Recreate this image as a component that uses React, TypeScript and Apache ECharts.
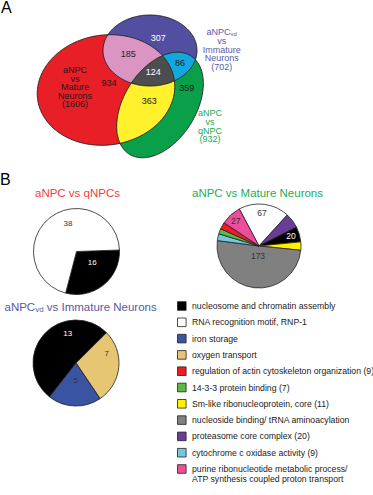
import React, { useEffect, useRef } from "react";
import * as echarts from "echarts";

const FONT = '"Liberation Sans", Arial, Helvetica, sans-serif';

// ---------- Data ----------
// Venn diagram (panel A)
const setLabels = ["aNPC\nvs\nMature\nNeurons", "aNPC{s|vd}\nvs\nImmature\nNeurons", "aNPC\nvs\nqNPC"];
const setTotals = [1606, 702, 932];
// regions: red only, blue only, green only, red&blue, blue&green, red&green, all three
const regionCounts = [934, 307, 359, 185, 86, 363, 124];

// GO terms (legend)
const termNames = [
  "nucleosome and chromatin assembly",
  "RNA recognition motif, RNP-1",
  "iron storage",
  "oxygen transport",
  "regulation of actin cytoskeleton organization (9)",
  "14-3-3 protein binding (7)",
  "Sm-like ribonucleoprotein, core (11)",
  "nucleoside binding/ tRNA aminoacylation",
  "proteasome core complex (20)",
  "cytochrome c oxidase activity (9)",
  "purine ribonucleotide metabolic process/\nATP synthesis coupled proton transport",
];
const termColors = [
  "#000000", "#ffffff", "#3a54a4", "#e6c673", "#ed1c24", "#5cb947",
  "#fff200", "#808080", "#693c98", "#72c9dd", "#ee4d9b",
];

// Pie charts (panel B)
const pieTitles = ["aNPC vs qNPCs", "aNPC vs Mature Neurons", "aNPC{s|vd} vs Immature Neurons"];
const pie1Terms = [0, 1];
const pie1Values = [16, 38];
const pie2Terms = [1, 8, 0, 6, 7, 9, 5, 4, 10];
const pie2Values = [67, 20, 20, 11, 173, 9, 7, 9, 27];
const pie3Terms = [0, 3, 2];
const pie3Values = [13, 7, 5];

// ---------- Layout ----------
const ELLIPSES = [
  { cx: 106, cy: 90, rx: 69, ry: 55, rot: 8, fill: "#e81f27" },
  { cx: 150, cy: 50.5, rx: 47, ry: 35.5, rot: 0, fill: "#524fa1" },
  { cx: 160, cy: 105, rx: 58, ry: 36, rot: 58, fill: "#0aa04a" },
];
const REGION_COLORS = { rb: "#da95c3", bg: "#12a8df", rg: "#fff22d", all: "#4d4d4f" };
const REGION_POS = [
  [109, 83.3], [158.3, 38.3], [186.7, 88.3], [128.3, 54.3], [180, 62.7], [149.3, 100.7], [153.3, 71.7],
];
const REGION_TEXT = ["#1a1a1a", "#ffffff", "#1a1a1a", "#222222", "#1a1a1a", "#1a1a1a", "#ffffff"];
const SET_LABEL_POS = [[75, 87.2], [221.7, 49.5], [210, 126.3]];
const SET_LABEL_COLOR = ["#1a1a1a", "#5b59a8", "#22a951"];

const PIE_CENTERS = [[76.5, 251.5], [259, 246], [76, 363]];
const PIE_RADII = [43, 42, 43];
const PIE_START = [2, 118, 232];
// label placement: [angle deg, radius fraction] or null (hidden)
const PIE_LABEL_POS = [
  [[-34, 0.44], [106.6, 0.69]],
  [[85, 0.8], null, [17.4, 0.8], null, [-95.7, 0.24], null, null, null, [132.6, 0.82]],
  [[105.6, 0.72], [17.5, 0.75], [-91, 0.41]],
];
const TITLE_POS = [[77.5, 193, "center"], [257.5, 192.5, "center"], [4.5, 307, "left"]];
const TITLE_COLOR = ["#ef3e42", "#1aae55", "#5a57a6"];

const LEGEND_X = 177.5;
const LEGEND_TOP = 306;
const LEGEND_PITCH = 16.3;

type P = [number, number];

function ellipsePts(e: { cx: number; cy: number; rx: number; ry: number; rot: number }, n = 240): P[] {
  const th = (e.rot * Math.PI) / 180;
  const c = Math.cos(th), s = Math.sin(th);
  const pts: P[] = [];
  for (let i = 0; i < n; i++) {
    const t = (2 * Math.PI * i) / n;
    const u = e.rx * Math.cos(t), v = e.ry * Math.sin(t);
    pts.push([e.cx + u * c + v * s, e.cy - u * s + v * c]);
  }
  return pts;
}

function polyArea(p: P[]): number {
  let a = 0;
  for (let i = 0; i < p.length; i++) {
    const [x1, y1] = p[i];
    const [x2, y2] = p[(i + 1) % p.length];
    a += x1 * y2 - x2 * y1;
  }
  return a / 2;
}

function clipPoly(subject: P[], clip: P[]): P[] {
  const sgn = Math.sign(polyArea(clip));
  let out = subject;
  for (let i = 0; i < clip.length; i++) {
    const A = clip[i], B = clip[(i + 1) % clip.length];
    const inp = out;
    out = [];
    if (!inp.length) break;
    const inside = (p: P) => sgn * ((B[0] - A[0]) * (p[1] - A[1]) - (B[1] - A[1]) * (p[0] - A[0])) >= 0;
    const inter = (p: P, q: P): P => {
      const [x1, y1] = p, [x2, y2] = q, [x3, y3] = A, [x4, y4] = B;
      const d = (x1 - x2) * (y3 - y4) - (y1 - y2) * (x3 - x4);
      const t = ((x1 - x3) * (y3 - y4) - (y1 - y3) * (x3 - x4)) / d;
      return [x1 + t * (x2 - x1), y1 + t * (y2 - y1)];
    };
    for (let j = 0; j < inp.length; j++) {
      const Pp = inp[j], Q = inp[(j + 1) % inp.length];
      const pin = inside(Pp), qin = inside(Q);
      if (qin) {
        if (!pin) out.push(inter(Pp, Q));
        out.push(Q);
      } else if (pin) out.push(inter(Pp, Q));
    }
  }
  return out;
}

function txt(x: number, y: number, text: string, o: any = {}) {
  const align = o.align || "center";
  const va = o.verticalAlign || "middle";
  return {
    type: "text",
    x,
    y,
    z: 10,
    style: {
      text,
      fill: o.color || "#1a1a1a",
      fontSize: o.fontSize || 9,
      fontFamily: FONT,
      lineHeight: o.lineHeight,
      align,
      verticalAlign: va,
      textAlign: align,
      textVerticalAlign: va,
      rich: o.rich,
    },
  };
}

function buildGraphic() {
  const els: any[] = [];
  const [R, B, G] = ELLIPSES.map((e) => ellipsePts(e));
  ELLIPSES.forEach((e, i) => {
    els.push({ type: "polygon", z: 1, shape: { points: [R, B, G][i] }, style: { fill: e.fill } });
  });
  const rb = clipPoly(R, B);
  const bg = clipPoly(B, G);
  const rg = clipPoly(R, G);
  const all = clipPoly(rb, G);
  els.push({ type: "polygon", z: 2, shape: { points: rb }, style: { fill: REGION_COLORS.rb } });
  els.push({ type: "polygon", z: 2, shape: { points: bg }, style: { fill: REGION_COLORS.bg } });
  els.push({ type: "polygon", z: 2, shape: { points: rg }, style: { fill: REGION_COLORS.rg } });
  els.push({ type: "polygon", z: 3, shape: { points: all }, style: { fill: REGION_COLORS.all } });
  [R, B, G].forEach((pts) => {
    els.push({ type: "polygon", z: 4, shape: { points: pts }, style: { fill: "none", stroke: "#231f20", lineWidth: 0.9 } });
  });
  regionCounts.forEach((v, i) => {
    els.push(txt(REGION_POS[i][0], REGION_POS[i][1], String(v), { color: REGION_TEXT[i], fontSize: 9 }));
  });
  setLabels.forEach((lab, i) => {
    els.push(
      txt(SET_LABEL_POS[i][0], SET_LABEL_POS[i][1], `${lab}\n(${setTotals[i]})`, {
        color: SET_LABEL_COLOR[i],
        fontSize: 9,
        lineHeight: 8.6,
        rich: { s: { fontSize: 6, lineHeight: 5, verticalAlign: "bottom", fill: SET_LABEL_COLOR[i], fontFamily: FONT } },
      })
    );
  });
  // panel letters
  els.push(txt(1, 7.5, "A", { align: "left", fontSize: 16, color: "#000" }));
  els.push(txt(0, 179, "B", { align: "left", fontSize: 16, color: "#000" }));
  // pie titles
  pieTitles.forEach((t, i) => {
    els.push(
      txt(TITLE_POS[i][0] as number, TITLE_POS[i][1] as number, t, {
        align: TITLE_POS[i][2],
        color: TITLE_COLOR[i],
        fontSize: 11.5,
        rich: { s: { fontSize: 8, lineHeight: 8, verticalAlign: "bottom", fill: TITLE_COLOR[i], fontFamily: FONT } },
      })
    );
  });
  // legend
  termNames.forEach((name, i) => {
    const y = LEGEND_TOP + i * LEGEND_PITCH;
    els.push({
      type: "rect",
      z: 5,
      shape: { x: LEGEND_X, y: y - 4.3, width: 8.6, height: 8.6 },
      style: { fill: termColors[i], stroke: "#231f20", lineWidth: 0.8 },
    });
    els.push(txt(LEGEND_X + 14.5, y - 5, name, { align: "left", verticalAlign: "top", fontSize: 8.7, lineHeight: 10, color: "#1a1a1a" }));
  });
  return els;
}

function pieSeries(k: number, terms: number[], values: number[]) {
  return {
    type: "pie",
    center: PIE_CENTERS[k],
    radius: [0, PIE_RADII[k]],
    startAngle: PIE_START[k],
    clockwise: true,
    silent: true,
    avoidLabelOverlap: false,
    emphasis: { disabled: true },
    itemStyle: { borderColor: "#231f20", borderWidth: 0.8 },
    label: { show: true, position: "inside", fontSize: k === 1 ? 8.5 : 8, fontFamily: FONT, formatter: "{c}" },
    labelLine: { show: false },
    labelLayout: (p: any) => {
      const lp = PIE_LABEL_POS[k][p.dataIndex];
      if (!lp) return {};
      const [cx, cy] = PIE_CENTERS[k];
      const a = (lp[0] * Math.PI) / 180;
      return {
        x: cx + Math.cos(a) * lp[1] * PIE_RADII[k],
        y: cy - Math.sin(a) * lp[1] * PIE_RADII[k],
        align: "center",
        verticalAlign: "middle",
      };
    },
    data: terms.map((t, i) => ({
      name: termNames[t],
      value: values[i],
      itemStyle: { color: termColors[t] },
      label: { show: !!PIE_LABEL_POS[k][i], color: t === 0 ? "#ffffff" : "#333333" },
    })),
  };
}

export default function App() {
  const ref = useRef<HTMLDivElement>(null);
  useEffect(() => {
    if (!ref.current) return;
    const chart = echarts.init(ref.current, undefined, { renderer: "svg" });
    chart.setOption({
      animation: false,
      backgroundColor: "#ffffff",
      graphic: { elements: buildGraphic() },
      series: [
        pieSeries(0, pie1Terms, pie1Values),
        pieSeries(1, pie2Terms, pie2Values),
        pieSeries(2, pie3Terms, pie3Values),
      ],
    });
    return () => chart.dispose();
  }, []);
  return <div ref={ref} style={{ position: "absolute", left: 0, top: 0, width: 373, height: 495 }} />;
}
